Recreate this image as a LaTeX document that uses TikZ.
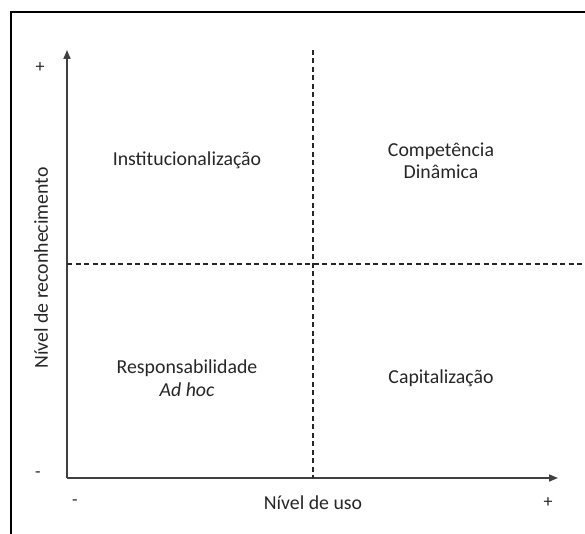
\documentclass[tikz,border=0pt]{standalone}
\usepackage{fontspec}
\setmainfont{Carlito}
\usetikzlibrary{arrows.meta}
\begin{document}
\begin{tikzpicture}[x=1pt,y=-1pt,
  axis/.style={draw=black!75,line width=1.6pt,-{Triangle[length=9pt,width=7pt]}},
  divider/.style={draw=black!85,line width=1.3pt,dash pattern=on 5pt off 3.5pt},
  frame/.style={draw=black,line width=2.6pt},
  lbl/.style={font=\fontsize{19.8}{22.5}\selectfont,text=black!85,align=center,inner sep=0pt},
  sign/.style={font=\fontsize{18}{20}\selectfont,text=black!85,inner sep=0pt}]
\useasboundingbox (0,0) rectangle (585,534);
% frame
\coordinate (fbl) at (11,534);
\coordinate (ftl) at (11,12);
\coordinate (ftr) at (585,12);
\draw[frame] (fbl) -- (ftl) -- (ftr);
% axes
\coordinate (o) at (67,478);
\coordinate (ytop) at (67,50);
\coordinate (xend) at (558,478);
\draw[axis] (o) -- (ytop);
\draw[axis] (o) -- (xend);
% dividers
\coordinate (vtop) at (313,50);
\coordinate (vbot) at (313,478);
\coordinate (hl) at (67,264);
\coordinate (hr) at (585,264);
\draw[divider] (vtop) -- (vbot);
\draw[divider] (hl) -- (hr);
% signs
\node[sign] (yplus) at (40,68) {+};
\node[sign] (yminus) at (38,475) {-};
\node[sign] (xminus) at (75,503) {-};
\node[sign] (xplus) at (548,503) {+};
% axis labels
\node[lbl] (xlab) at (313,503) {Nível de uso};
\node[lbl,rotate=90] (ylab) at (41,268) {Nível de reconhecimento};
% quadrants
\node[lbl] (q1) at (187,160) {Institucionalização};
\node[lbl] (q2) at (441,161) {Competência\\Dinâmica};
\node[lbl] (q3) at (187,378) {Responsabilidade\\\textit{Ad hoc}};
\node[lbl] (q4) at (441,378) {Capitalização};
\end{tikzpicture}
\end{document}
